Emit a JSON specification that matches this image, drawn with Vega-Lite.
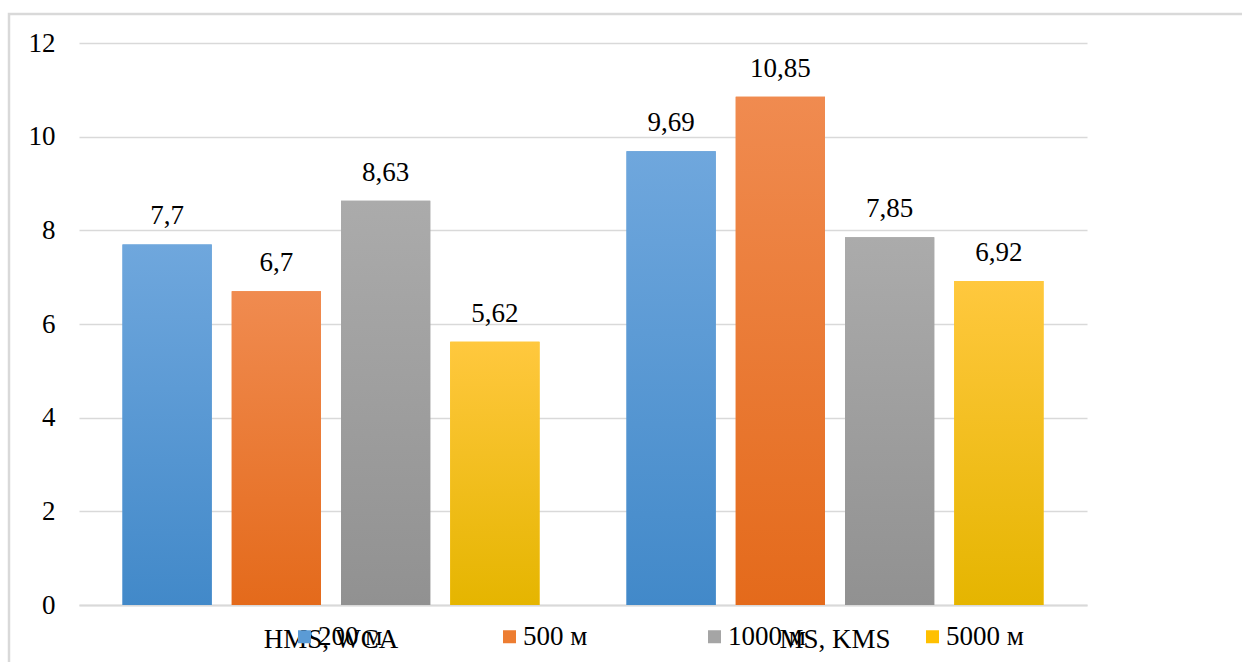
{
  "$schema": "https://vega.github.io/schema/vega-lite/v6.json",
  "width": 1239,
  "height": 654,
  "autosize": {"type": "none"},
  "padding": {"left": 9, "top": 14, "right": -6, "bottom": -6},
  "background": "#ffffff",
  "config": {
    "view": {"stroke": "#d9d9d9", "strokeWidth": 2.5},
    "font": "Liberation Serif",
    "locale": {
      "number": {"decimal": ",", "thousands": " ", "grouping": [3], "currency": ["", ""]}
    }
  },
  "data": {
    "values": [
      {"group": "HMS, WCA", "series": "200 м", "value": 7.7},
      {"group": "HMS, WCA", "series": "500 м", "value": 6.7},
      {"group": "HMS, WCA", "series": "1000 м", "value": 8.63},
      {"group": "HMS, WCA", "series": "5000 м", "value": 5.62},
      {"group": "MS, KMS", "series": "200 м", "value": 9.69},
      {"group": "MS, KMS", "series": "500 м", "value": 10.85},
      {"group": "MS, KMS", "series": "1000 м", "value": 7.85},
      {"group": "MS, KMS", "series": "5000 м", "value": 6.92}
    ]
  },
  "encoding": {
    "x": {
      "field": "group",
      "type": "nominal",
      "scale": {
        "domain": ["HMS, WCA", "MS, KMS"],
        "range": [70, 1078],
        "paddingInner": 0.1726,
        "paddingOuter": 0.0863
      },
      "axis": {
        "orient": "bottom",
        "offset": -63,
        "title": null,
        "grid": false,
        "domain": true,
        "domainColor": "#d9d9d9",
        "domainWidth": 2,
        "ticks": false,
        "tickSize": 0,
        "labelAngle": 0,
        "labelPadding": 42,
        "labelBaseline": "alphabetic",
        "labelFont": "Liberation Serif",
        "labelFontSize": 27,
        "labelColor": "#000000"
      }
    },
    "xOffset": {
      "field": "series",
      "type": "nominal",
      "scale": {
        "domain": ["200 м", "500 м", "1000 м", "5000 м"],
        "paddingInner": 0.183,
        "paddingOuter": 0
      }
    },
    "y": {
      "field": "value",
      "type": "quantitative",
      "scale": {"domain": [0, 12], "range": [591, 29], "nice": false},
      "axis": {
        "orient": "left",
        "offset": -70,
        "title": null,
        "values": [0, 2, 4, 6, 8, 10, 12],
        "domain": false,
        "ticks": false,
        "tickSize": 0,
        "labelPadding": 24,
        "labelFont": "Liberation Serif",
        "labelFontSize": 27,
        "labelColor": "#000000",
        "grid": true,
        "gridColor": "#d9d9d9",
        "gridWidth": 1.5
      }
    }
  },
  "layer": [
    {
      "mark": {"type": "bar"},
      "encoding": {
        "color": {
          "field": "series",
          "type": "nominal",
          "scale": {
            "domain": ["200 м", "500 м", "1000 м", "5000 м"],
            "range": ["#5b9bd5", "#ed7d31", "#a5a5a5", "#ffc000"]
          },
          "legend": {
            "orient": "none",
            "legendX": 282,
            "legendY": 609,
            "direction": "horizontal",
            "title": null,
            "padding": 0,
            "symbolType": "square",
            "symbolSize": 169,
            "symbolStrokeWidth": 0,
            "labelFont": "Liberation Serif",
            "labelFontSize": 27,
            "labelColor": "#000000",
            "labelOffset": 0,
            "columnPadding": 113
          }
        }
      }
    },
    {
      "transform": [{"filter": "datum.series === '200 м'"}],
      "mark": {
        "type": "bar",
        "fill": {
          "gradient": "linear", "x1": 0, "y1": 0, "x2": 0, "y2": 1,
          "stops": [{"offset": 0, "color": "#6fa7dd"}, {"offset": 1, "color": "#4289c9"}]
        }
      }
    },
    {
      "transform": [{"filter": "datum.series === '500 м'"}],
      "mark": {
        "type": "bar",
        "fill": {
          "gradient": "linear", "x1": 0, "y1": 0, "x2": 0, "y2": 1,
          "stops": [{"offset": 0, "color": "#f08b50"}, {"offset": 1, "color": "#e46a1b"}]
        }
      }
    },
    {
      "transform": [{"filter": "datum.series === '1000 м'"}],
      "mark": {
        "type": "bar",
        "fill": {
          "gradient": "linear", "x1": 0, "y1": 0, "x2": 0, "y2": 1,
          "stops": [{"offset": 0, "color": "#ababab"}, {"offset": 1, "color": "#919191"}]
        }
      }
    },
    {
      "transform": [{"filter": "datum.series === '5000 м'"}],
      "mark": {
        "type": "bar",
        "fill": {
          "gradient": "linear", "x1": 0, "y1": 0, "x2": 0, "y2": 1,
          "stops": [{"offset": 0, "color": "#ffc83e"}, {"offset": 1, "color": "#e5b500"}]
        }
      }
    },
    {
      "mark": {
        "type": "text",
        "baseline": "alphabetic",
        "align": "center",
        "dy": -20,
        "font": "Liberation Serif",
        "fontSize": 27,
        "color": "#000000"
      },
      "encoding": {
        "text": {"field": "value", "type": "quantitative", "format": ".4~g"}
      }
    }
  ]
}
